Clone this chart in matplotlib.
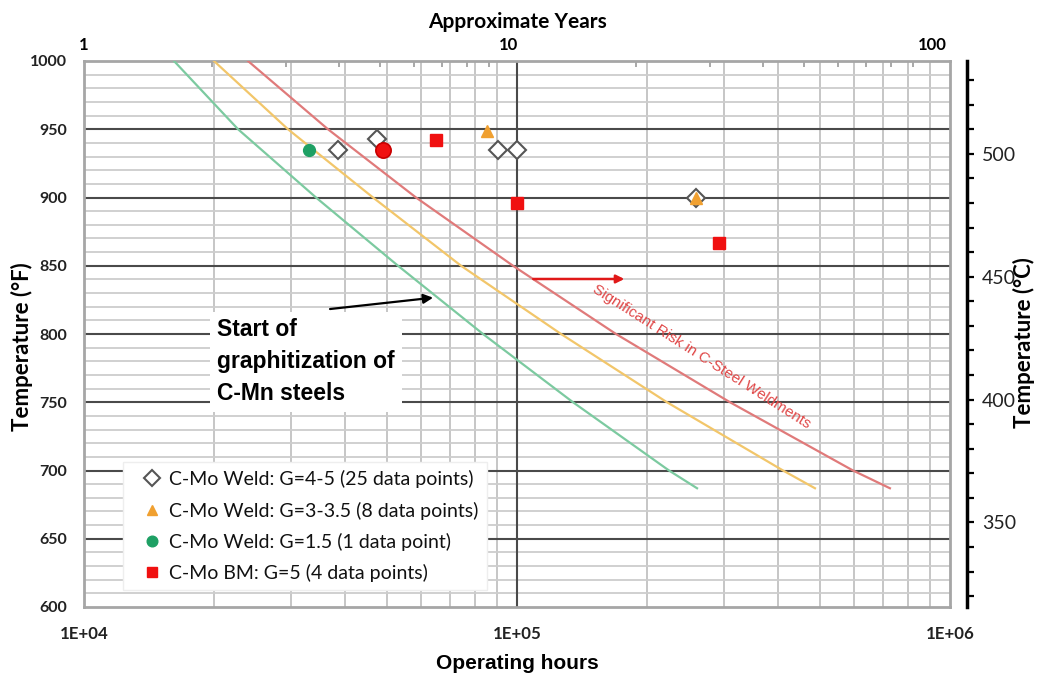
import numpy as np
import matplotlib
matplotlib.use("Agg")
import matplotlib.pyplot as plt
from matplotlib.ticker import FixedLocator, NullFormatter

# ---------------- data ----------------
curve_temps_f = [1000, 950, 900, 850, 800, 750, 700, 687]
green_hours = [16140, 22690, 34340, 53110, 83460, 134700, 224400, 260500]
orange_hours = [19960, 29590, 46500, 74260, 126400, 222000, 411500, 487700]
red_hours = [23920, 36600, 58440, 97900, 169300, 310400, 597000, 726500]

weld45_hours = [38540, 47430, 90550, 100200, 259000]
weld45_temp = [935, 943, 935, 935, 900]
weld3_hours = [85140, 259000]
weld3_temp = [949, 900]
weld15_hours = [33140]
weld15_temp = [935]
bm_sq_hours = [64910, 100200, 292700]
bm_sq_temp = [942, 896, 867]
bm_round_hours = [49120]
bm_round_temp = [935]

hours_ticks = [1e4, 1e5, 1e6]
hours_labels = ["1E+04", "1E+05", "1E+06"]
temp_f_ticks = [600, 650, 700, 750, 800, 850, 900, 950, 1000]
temp_c_ticks = [350, 400, 450, 500]
years_ticks = [1, 10, 100]
years_labels = ["1", "10", "100"]

legend_labels = ["C-Mo Weld: G=4-5 (25 data points)",
                 "C-Mo Weld: G=3-3.5 (8 data points)",
                 "C-Mo Weld: G=1.5 (1 data point)",
                 "C-Mo BM: G=5 (4 data points)"]

note_text = "Start of\ngraphitization of\nC-Mn steels"
risk_text = "Significant Risk in C-Steel Weldments"

# ---------------- figure ----------------
W, H = 1037, 675
fig = plt.figure(figsize=(W / 100, H / 100), dpi=100)
fig.patch.set_facecolor("white")
ax = fig.add_axes([84 / W, 1 - 607 / H, (950 - 84) / W, (607 - 61) / H])
ax.set_xscale("log")
ax.set_xlim(1e4, 1e6)
ax.set_ylim(600, 1000)

# grid (drawn explicitly so that the major lines sit above the minor ones)
minor_x = [m * 10 ** e for e in (4, 5) for m in range(2, 10)]
minor_y = [t for t in range(600, 1001, 10) if t % 50 != 0]
for xv in minor_x:
    ax.axvline(xv, color="#c6c6c6", lw=1.4, zorder=0.6)
for yv in minor_y:
    ax.axhline(yv, color="#cdcdcd", lw=1.3, zorder=0.6)
for yv in temp_f_ticks[1:-1]:
    ax.axhline(yv, color="#4a4a4a", lw=1.5, zorder=0.8)
ax.axvline(hours_ticks[1], color="#4a4a4a", lw=1.5, zorder=0.8)

ax.xaxis.set_major_locator(FixedLocator(hours_ticks))
ax.xaxis.set_minor_locator(FixedLocator(minor_x))
ax.yaxis.set_major_locator(FixedLocator(temp_f_ticks))
ax.yaxis.set_minor_locator(FixedLocator(minor_y))
ax.xaxis.set_minor_formatter(NullFormatter())
ax.set_xticklabels(hours_labels)
ax.set_yticklabels([str(t) for t in temp_f_ticks])
ax.tick_params(which="both", length=0)
ax.tick_params(axis="y", pad=12)
ax.tick_params(axis="x", pad=14)
for lab in ax.get_yticklabels():
    lab.set_fontfamily("Lato")
    lab.set_fontweight("bold")
    lab.set_fontsize(11.5)
    lab.set_color("#222222")
for lab in ax.get_xticklabels():
    lab.set_fontfamily("Lato")
    lab.set_fontweight("bold")
    lab.set_fontsize(12.2)
    lab.set_color("#222222")
for s in ax.spines.values():
    s.set_color("#a6a6a6")
    s.set_linewidth(2)
    s.set_zorder(2)

# curves
ax.plot(green_hours, curve_temps_f, color="#7ccaa0", lw=1.6, zorder=3)
ax.plot(orange_hours, curve_temps_f, color="#f2c66a", lw=1.6, zorder=3)
ax.plot(red_hours, curve_temps_f, color="#e07a7a", lw=1.6, zorder=3)

# data points
h45, = ax.plot(weld45_hours, weld45_temp, ls="none", marker="D", ms=9.5,
               mfc="white", mec="#555555", mew=1.5, zorder=5)
h3, = ax.plot(weld3_hours, weld3_temp, ls="none", marker="^", ms=8,
              mfc="#f0a030", mec="#f0a030", zorder=6)
h15, = ax.plot(weld15_hours, weld15_temp, ls="none", marker="o", ms=8.5,
               mfc="#1ea064", mec="#1ea064", zorder=6)
hbm, = ax.plot(bm_sq_hours, bm_sq_temp, ls="none", marker="s", ms=8.5,
               mfc="#f01010", mec="#f01010", zorder=6)
ax.plot(bm_round_hours, bm_round_temp, ls="none", marker="o", ms=11,
        mfc="#f01010", mec="#c80000", mew=1.2, zorder=6)

# legend
leg = ax.legend([h45, h3, h15, hbm], legend_labels, loc="upper left",
                bbox_to_anchor=(123 / W, 1 - 462 / H), bbox_transform=fig.transFigure,
                prop={"family": "Lato", "size": 14}, frameon=True, fancybox=False,
                framealpha=1, edgecolor="#eeeeee", handlelength=2.1,
                handletextpad=-0.15, labelspacing=0.68, borderpad=0.42,
                borderaxespad=0, markerscale=0.9)
leg.set_zorder(10)
for t in leg.get_texts():
    t.set_color("#111111")

# annotation box text
ax.text(20300, 779.5, note_text, fontfamily="Liberation Sans", fontweight="bold",
        fontsize=16.5, ha="left", va="center", linespacing=1.5, color="black",
        zorder=8, bbox=dict(facecolor="white", edgecolor="none", pad=5))
ax.annotate("", xy=(64000, 826.6), xytext=(37000, 818.3),
            arrowprops=dict(arrowstyle="-|>", color="black", lw=1.6,
                            mutation_scale=14, shrinkA=0, shrinkB=0), zorder=9)

# red arrow + rotated text
ax.annotate("", xy=(177000, 840.3), xytext=(109000, 840.3),
            arrowprops=dict(arrowstyle="-|>", color="#e01818", lw=1.8,
                            mutation_scale=12, shrinkA=0, shrinkB=0), zorder=9)
ax.text(267000, 783.2, risk_text, color="#e04848", fontfamily="Liberation Sans",
        fontsize=11, rotation=-32.5, rotation_mode="anchor", ha="center",
        va="center", zorder=7)

# axis titles
ax.set_xlabel("Operating hours", fontfamily="Liberation Sans", fontweight="bold",
              fontsize=15, labelpad=8)
ax.set_ylabel("Temperature (\u00b0F)", fontfamily="Lato", fontweight="bold",
              fontsize=16)
ax.yaxis.set_label_coords((33 - 84) / 866, (607 - 347) / 546)

# top axis: approximate years
k = 433 / 424


def h2y(h):
    h = np.clip(np.asarray(h, dtype=float), 1e-9, None)
    return 10 ** (k * (np.log10(h) - 4))


def y2h(y):
    y = np.clip(np.asarray(y, dtype=float), 1e-9, None)
    return 10 ** (4 + np.log10(y) / k)


secx = ax.secondary_xaxis("top", functions=(h2y, y2h))
secx.xaxis.set_major_locator(FixedLocator(years_ticks))
secx.set_xticklabels(years_labels)
secx.xaxis.set_minor_locator(FixedLocator([m * 10 ** e for e in (0, 1) for m in range(2, 10)]))
secx.xaxis.set_minor_formatter(NullFormatter())
secx.tick_params(which="major", length=0, pad=6)
secx.tick_params(which="minor", direction="in", length=4, width=1.2, color="#999999")
for lab in secx.get_xticklabels():
    lab.set_fontfamily("Lato")
    lab.set_fontweight("bold")
    lab.set_fontsize(12)
secx.spines["top"].set_visible(False)
secx.set_xlabel("Approximate Years", fontfamily="Lato", fontweight="bold",
                fontsize=15, labelpad=6)

# right axis: Celsius


def f2c(f):
    return (np.asarray(f, dtype=float) - 32) * 5 / 9


def c2f(c):
    return np.asarray(c, dtype=float) * 9 / 5 + 32


secy = ax.secondary_yaxis("right", functions=(f2c, c2f))
secy.spines["right"].set_position(("outward", 12.2))
secy.spines["right"].set_linewidth(2.5)
secy.spines["right"].set_color("black")
secy.yaxis.set_major_locator(FixedLocator(temp_c_ticks))
secy.set_yticklabels([str(t) for t in temp_c_ticks])
secy.yaxis.set_minor_locator(FixedLocator([t for t in range(320, 540, 10) if t % 50 != 0]))
secy.yaxis.set_minor_formatter(NullFormatter())
secy.tick_params(which="both", direction="out", length=5, width=1.6, color="black", pad=6)
for lab in secy.get_yticklabels():
    lab.set_fontfamily("Lato")
    lab.set_fontsize(14)
    lab.set_color("#222222")
secy.set_ylabel("Temperature (\u00b0C)", fontfamily="Lato", fontweight="bold",
                fontsize=16)
secy.yaxis.set_label_coords((1013 - 84) / 866, (607 - 343) / 546,
                            transform=ax.transAxes)

fig.savefig("out.png", dpi=100, facecolor="white")
